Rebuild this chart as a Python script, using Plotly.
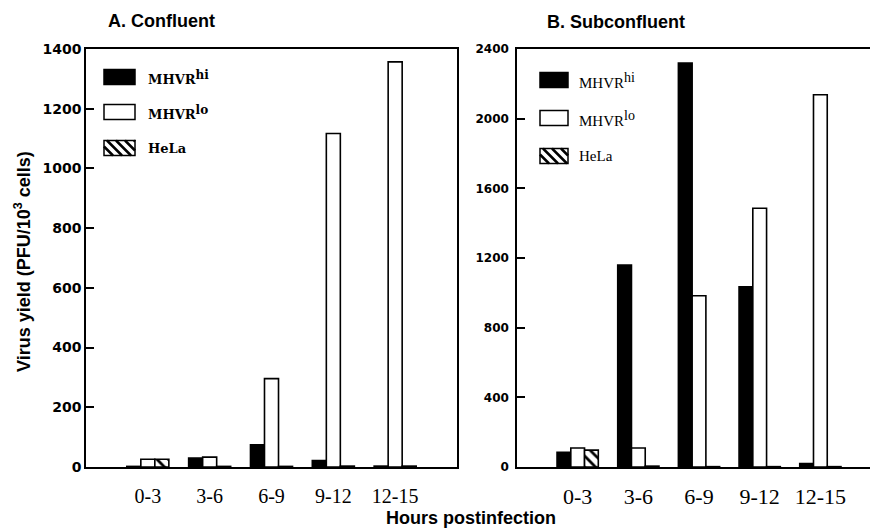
import plotly.graph_objects as go

# ---------------- data ----------------
categories = ["0-3", "3-6", "6-9", "9-12", "12-15"]

conf_hi = [2, 30, 74, 22, 3]
conf_lo = [26, 33, 296, 1117, 1357]
conf_hela = [26, 2, 2, 3, 3]

sub_hi = [84, 1160, 2320, 1034, 20]
sub_lo = [109, 109, 983, 1486, 2137]
sub_hela = [97, 5, 2, 2, 2]

conf_ticks = [0, 200, 400, 600, 800, 1000, 1200, 1400]
sub_ticks = [0, 400, 800, 1200, 1600, 2000, 2400]

# the page places the figure 8 px from the top-left corner
OFF = 8
W, H = 878 - OFF, 530 - OFF


def px(x):
    return (x - OFF) / W


def py(y):
    return 1 - (y - OFF) / H


fig = go.Figure()

line = dict(color="black", width=1.6)


def add_series(xa, ya, hi, lo, hela):
    fig.add_trace(go.Bar(x=categories, y=hi, xaxis=xa, yaxis=ya,
                         marker=dict(color="black", line=line), showlegend=False))
    fig.add_trace(go.Bar(x=categories, y=lo, xaxis=xa, yaxis=ya,
                         marker=dict(color="white", line=line), showlegend=False))
    fig.add_trace(go.Bar(x=categories, y=hela, xaxis=xa, yaxis=ya,
                         marker=dict(color="white", line=line,
                                     pattern=dict(shape="\\", fgcolor="black",
                                                  bgcolor="white", size=8,
                                                  solidity=0.35)),
                         showlegend=False))


add_series("x", "y", conf_hi, conf_lo, conf_hela)
add_series("x2", "y2", sub_hi, sub_lo, sub_hela)

ytick_font_l = dict(family="DejaVu Sans", size=14, color="black")
ytick_font_r = dict(family="DejaVu Sans", size=12, color="black")

fig.update_layout(
    template="none",
    width=W, height=H,
    margin=dict(l=0, r=0, t=0, b=0, autoexpand=False),
    paper_bgcolor="white", plot_bgcolor="white",
    barmode="group", bargap=0.32, bargroupgap=0,
    showlegend=False,
    xaxis=dict(domain=[px(86), px(457)], anchor="y", type="category",
               automargin=False,
               range=[-1, 5], showline=True, mirror=True, linecolor="black",
               linewidth=1.5, ticks="", showgrid=False, zeroline=False,
               tickfont=dict(family="Liberation Serif", size=20, color="black"),
               ticklabelstandoff=10),
    yaxis=dict(domain=[py(467), py(49)], anchor="x", range=[0, 1400],
               automargin=False,
               tickvals=conf_ticks, ticktext=[f"<b>{t}</b>" for t in conf_ticks],
               showline=True, mirror=True, linecolor="black", linewidth=1.5,
               ticks="inside", ticklen=8, tickwidth=1.5, tickcolor="black",
               showgrid=False, zeroline=False, tickfont=ytick_font_l,
               ticklabelstandoff=0),
    xaxis2=dict(domain=[px(517), 1.0], anchor="y2", type="category",
                automargin=False,
                range=[-1, 4.95], showline=True, mirror=True, linecolor="black",
                linewidth=1.5, ticks="", showgrid=False, zeroline=False,
                tickfont=dict(family="Liberation Serif", size=22, color="black"),
                ticklabelstandoff=9),
    yaxis2=dict(domain=[py(467), py(49)], anchor="x2", range=[0, 2400],
                automargin=False,
                tickvals=sub_ticks, ticktext=[f"<b>{t}</b>" for t in sub_ticks],
                showline=True, mirror=False, linecolor="black", linewidth=1.5,
                ticks="inside", ticklen=8, tickwidth=1.5, tickcolor="black",
                showgrid=False, zeroline=False, tickfont=ytick_font_r,
                ticklabelstandoff=4),
)

shapes = []
annotations = []


def rect(x0, y0, x1, y1, fill):
    shapes.append(dict(type="rect", xref="paper", yref="paper",
                       x0=px(x0), x1=px(x1), y0=py(y1), y1=py(y0),
                       fillcolor=fill, line=dict(color="black", width=1.5)))


def hatch(x0, y0, x1, y1, step=9):
    h = y1 - y0
    k = x0 - h
    while k < x1:
        ax, ay, bx, by = k, y0, k + h, y1
        if ax < x0:
            ay = y0 + (x0 - ax)
            ax = x0
        if bx > x1:
            by = y1 - (bx - x1)
            bx = x1
        if bx > ax:
            shapes.append(dict(type="line", xref="paper", yref="paper",
                               x0=px(ax), y0=py(ay), x1=px(bx), y1=py(by),
                               line=dict(color="black", width=2.5)))
        k += step


def legend(xb, xt, rows, w, h, font, labels):
    fills = ["black", "white", "white"]
    for i, (yc, lab) in enumerate(zip(rows, labels)):
        x0, x1 = xb, xb + w
        y0, y1 = yc - h / 2, yc + h / 2
        rect(x0, y0, x1, y1, fills[i])
        if i == 2:
            hatch(x0, y0, x1, y1)
        annotations.append(dict(xref="paper", yref="paper", x=px(xt), y=py(yc),
                                xanchor="left", yanchor="middle", text=lab,
                                showarrow=False, font=font))


def sup(s, size):
    return f'<sup><span style="font-size:{size}px">{s}</span></sup>'


legend(104, 146, [77, 112, 148], 31, 15,
       dict(family="DejaVu Serif", size=13, color="black"),
       [f"<b>MHVR{sup('hi', 12)}</b>", f"<b>MHVR{sup('lo', 12)}</b>", "<b>HeLa</b>"])
legend(540, 577, [80, 118, 156], 28, 15,
       dict(family="Liberation Serif", size=15, color="black"),
       [f"MHVR{sup('hi', 14)}", f"MHVR{sup('lo', 14)}", "HeLa"])

title_font = dict(family="Liberation Sans", size=18, color="black")
annotations.append(dict(xref="paper", yref="paper", x=px(106), y=py(21),
                        xanchor="left", yanchor="middle", text="<b>A. Confluent</b>",
                        showarrow=False, font=title_font))
annotations.append(dict(xref="paper", yref="paper", x=px(545), y=py(22),
                        xanchor="left", yanchor="middle", text="<b>B. Subconfluent</b>",
                        showarrow=False, font=title_font))
annotations.append(dict(xref="paper", yref="paper", x=px(471), y=py(518),
                        xanchor="center", yanchor="middle",
                        text="<b>Hours postinfection</b>",
                        showarrow=False, font=dict(family="Liberation Sans", size=18, color="black")))
annotations.append(dict(xref="paper", yref="paper", x=px(22), y=py(262),
                        xanchor="center", yanchor="middle", textangle=-90,
                        text="<b>Virus yield (PFU/10<sup>3</sup> cells)</b>",
                        showarrow=False, font=dict(family="Liberation Sans", size=18, color="black")))

fig.update_layout(shapes=shapes, annotations=annotations)

fig.write_html("out.html")
